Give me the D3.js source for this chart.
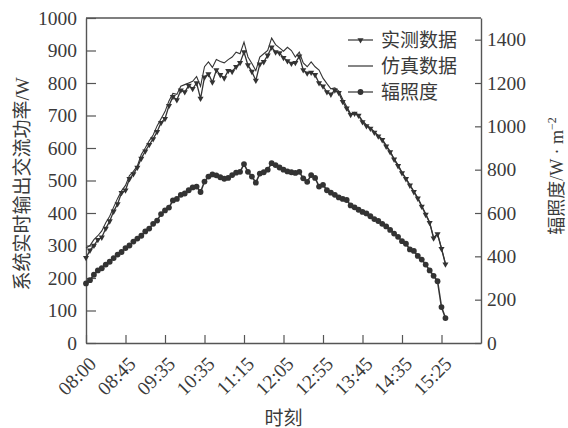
<!DOCTYPE html>
<html>
<head>
<meta charset="utf-8">
<script src="https://cdn.jsdelivr.net/npm/d3@7/dist/d3.min.js"></script>
<style>
  html, body { margin: 0; padding: 0; background: #fff; }
  svg { display: block; }
</style>
</head>
<body>
<div id="chart"></div>
<script>
const tickLabels = ['08:00', '08:45', '09:35', '10:35', '11:15', '12:05', '12:55', '13:45', '14:35', '15:25'];
const tickIndex = [0, 10, 20, 30, 40, 50, 60, 70, 80, 90];

// 实测数据 (W)
const measured = [
  262, 285, 300, 318, 325, 352, 375, 405, 428, 462,
  470, 505, 520, 540, 568, 590, 610, 628, 650, 678,
  690, 730, 758, 748, 778, 772, 792, 782, 800, 752,
  818, 828, 802, 840, 825, 815, 838, 835, 850, 862,
  895, 855, 835, 808, 858, 865, 885, 910, 895, 892,
  878, 868, 860, 862, 882, 840, 830, 832, 825, 800,
  790, 772, 765, 778, 770, 742, 722, 702, 706, 700,
  680, 668, 660, 648, 636, 625, 605, 588, 565, 545,
  523, 505, 485, 465, 445, 420, 395, 370, 322, 335,
  290, 242
];

// 仿真数据 (W)
const simulated = [
  292, 300, 318, 330, 345, 370, 390, 418, 445, 468,
  485, 515, 528, 545, 580, 600, 622, 640, 668, 690,
  712, 745, 768, 765, 790, 795, 800, 805, 820, 790,
  850, 865, 848, 872, 866, 862, 872, 880, 895, 890,
  926, 880, 860, 838, 880, 890, 900, 938, 918, 908,
  898, 910, 900, 880, 895, 862, 850, 865, 850, 840,
  815, 798, 782, 785, 775, 750, 728, 705, 710, 702,
  684, 671, 662, 650, 638, 627, 608, 590, 567, 548,
  525, 507, 487, 467, 447, 422, 398, 372, 325, 336,
  292, 245
];

// 辐照度 (W·m^-2)
const irradiance = [
  275, 290, 315, 335, 345, 362, 375, 392, 408, 420,
  438, 450, 468, 482, 495, 515, 528, 550, 565, 595,
  612, 625, 658, 665, 684, 690, 705, 718, 722, 697,
  745, 768, 778, 774, 765, 758, 762, 775, 786, 790,
  826, 790, 768, 740, 782, 788, 800, 830, 821, 810,
  800, 792, 788, 785, 790, 760, 744, 775, 762, 722,
  730, 705, 694, 684, 672, 665, 660, 635, 626, 615,
  605, 598, 585, 572, 563, 550, 538, 522, 505, 490,
  470, 458, 432, 425, 402, 385, 362, 335, 310, 285,
  166, 115
];

const W = 568, H = 428;
const M = { left: 86, right: 481, top: 18, bottom: 343 };
const INK = '#333';
const SERIF = '"Liberation Serif", "Times New Roman", serif';
const CJK = '"Liberation Serif", "Noto Sans CJK SC", sans-serif';

const svg = d3.select('#chart').append('svg')
  .attr('width', W).attr('height', H)
  .attr('viewBox', `0 0 ${W} ${H}`);

const x = d3.scaleLinear().domain([0, 100]).range([M.left, M.right]);
const yL = d3.scaleLinear().domain([0, 1000]).range([M.bottom, M.top]);
const yR = d3.scaleLinear().domain([0, 1500]).range([M.bottom, M.top]);

// Cadre supérieur
svg.append('line')
  .attr('x1', M.left).attr('x2', M.right)
  .attr('y1', M.top).attr('y2', M.top)
  .attr('stroke', '#555').attr('stroke-width', 1.4);

function styleAxis(g) {
  g.select('.domain').attr('stroke', '#555').attr('stroke-width', 1.4);
  g.selectAll('.tick line').attr('stroke', '#555').attr('stroke-width', 1.2);
  g.selectAll('.tick text')
    .attr('fill', '#3a3a3a')
    .attr('font-family', SERIF)
    .attr('font-size', 19.5);
}

// Axe gauche
svg.append('g')
  .attr('transform', `translate(${M.left},0)`)
  .call(d3.axisLeft(yL).tickValues(d3.range(0, 1001, 100))
    .tickFormat(d3.format('d'))
    .tickSize(-10).tickSizeOuter(0).tickPadding(9))
  .call(styleAxis);

// Axe droit
svg.append('g')
  .attr('transform', `translate(${M.right},0)`)
  .call(d3.axisRight(yR).tickValues(d3.range(0, 1401, 200))
    .tickFormat(d3.format('d'))
    .tickSize(-6).tickSizeOuter(0).tickPadding(6))
  .call(styleAxis);

// Axe bas
const gx = svg.append('g')
  .attr('transform', `translate(0,${M.bottom})`)
  .call(d3.axisBottom(x).tickValues(tickIndex)
    .tickFormat((d, i) => tickLabels[i])
    .tickSize(-8).tickSizeOuter(0))
  .call(styleAxis);
gx.selectAll('.tick text')
  .attr('text-anchor', 'end')
  .attr('x', 0).attr('y', 0).attr('dy', 0)
  .attr('transform', 'translate(11,22) rotate(-45)');

// Séries
const lineL = d3.line().x((d, i) => x(i)).y(d => yL(d));
const lineR = d3.line().x((d, i) => x(i)).y(d => yR(d));

svg.append('path').datum(simulated)
  .attr('d', lineL).attr('fill', 'none')
  .attr('stroke', INK).attr('stroke-width', 1.1);

svg.append('path').datum(measured)
  .attr('d', lineL).attr('fill', 'none')
  .attr('stroke', INK).attr('stroke-width', 1.3);

const tri = d3.symbol().type(d3.symbolTriangle).size(16);
svg.append('g').selectAll('path')
  .data(measured)
  .join('path')
  .attr('d', tri)
  .attr('transform', (d, i) => `translate(${x(i)},${yL(d)}) rotate(180)`)
  .attr('fill', INK);

svg.append('path').datum(irradiance)
  .attr('d', lineR).attr('fill', 'none')
  .attr('stroke', INK).attr('stroke-width', 1.6);

svg.append('g').selectAll('circle')
  .data(irradiance)
  .join('circle')
  .attr('cx', (d, i) => x(i))
  .attr('cy', d => yR(d))
  .attr('r', 2.9)
  .attr('fill', INK);

// Légende
const legend = [
  { label: '实测数据', mark: 'tri', y: 40 },
  { label: '仿真数据', mark: 'none', y: 66 },
  { label: '辐照度', mark: 'dot', y: 92 }
];
const lg = svg.append('g');
legend.forEach(l => {
  lg.append('line')
    .attr('x1', 348).attr('x2', 373)
    .attr('y1', l.y).attr('y2', l.y)
    .attr('stroke', INK).attr('stroke-width', 1.2);
  if (l.mark === 'tri') {
    lg.append('path').attr('d', tri)
      .attr('transform', `translate(360.5,${l.y}) rotate(180)`)
      .attr('fill', INK);
  } else if (l.mark === 'dot') {
    lg.append('circle').attr('cx', 360.5).attr('cy', l.y).attr('r', 2.9).attr('fill', INK);
  }
  lg.append('text')
    .attr('x', 381).attr('y', l.y).attr('dy', '0.35em')
    .attr('font-family', CJK).attr('font-size', 19)
    .attr('fill', '#3a3a3a')
    .text(l.label);
});

// Titres d'axes
svg.append('text')
  .attr('transform', 'translate(29,184) rotate(-90)')
  .attr('text-anchor', 'middle')
  .attr('font-family', CJK).attr('font-size', 19)
  .attr('fill', '#3a3a3a')
  .text('系统实时输出交流功率/W');

const rt = svg.append('text')
  .attr('transform', 'translate(563,176) rotate(-90)')
  .attr('text-anchor', 'middle')
  .attr('font-family', CJK).attr('font-size', 18)
  .attr('fill', '#3a3a3a');
rt.append('tspan').text('辐照度/W · m');
rt.append('tspan').attr('baseline-shift', 'super').attr('font-size', 12).text('−2');

svg.append('text')
  .attr('x', (M.left + M.right) / 2).attr('y', 425)
  .attr('text-anchor', 'middle')
  .attr('font-family', CJK).attr('font-size', 19)
  .attr('fill', '#3a3a3a')
  .text('时刻');
</script>
</body>
</html>
